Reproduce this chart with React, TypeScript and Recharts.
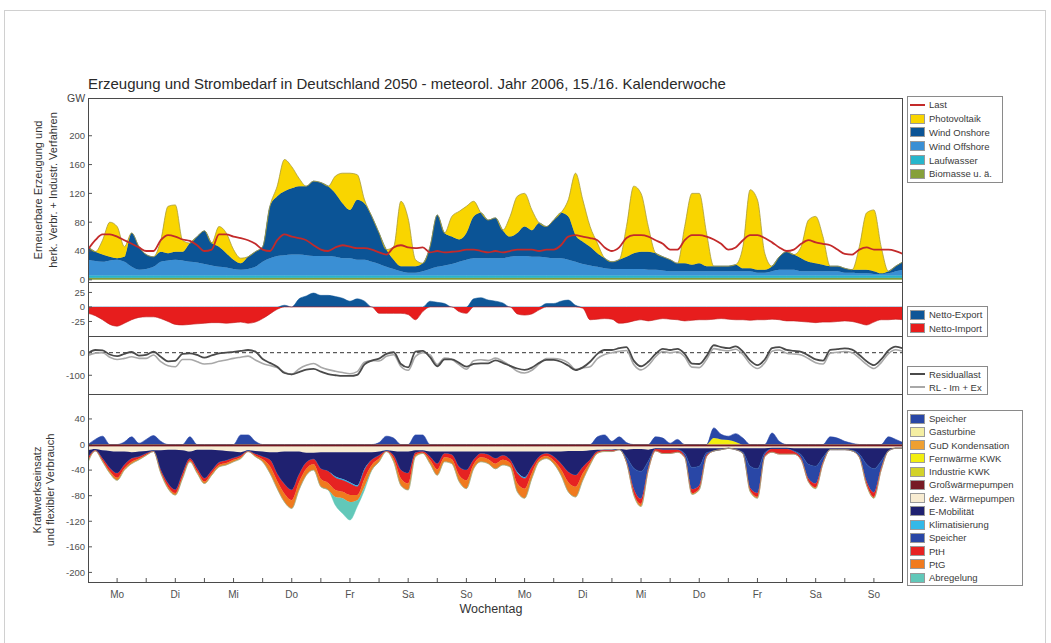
import React from 'react'
import { ComposedChart, Area, Line, XAxis, YAxis, ReferenceLine } from 'recharts'

const FONT = '"Liberation Sans", Arial, Helvetica, sans-serif'

// x axis: 14 days, 3-hour steps (8 per day) + end point = 113 values
const dayLabels = ['Mo', 'Di', 'Mi', 'Do', 'Fr', 'Sa', 'So', 'Mo', 'Di', 'Mi', 'Do', 'Fr', 'Sa', 'So']
const oddDayTicks = [1, 3, 5, 7, 9, 11, 13]
const halfDayTicks = [0.5, 1, 1.5, 2, 2.5, 3, 3.5, 4, 4.5, 5, 5.5, 6, 6.5, 7, 7.5, 8, 8.5, 9, 9.5, 10, 10.5, 11, 11.5, 12, 12.5, 13, 13.5]
const eeTicks = [0, 40, 80, 120, 160, 200]
const netTicks = [-25, 0, 25]
const rlTicks = [-100, 0]
const kwTicks = [-200, -160, -120, -80, -40, 0, 40]

// ---- Erneuerbare Erzeugung (GW) ----
const biomasse = [
  3, 3, 3, 3, 3, 3, 3, 3, 3, 3, 3, 3, 3, 3, 3, 3, 3, 3, 3, 3, 3, 3, 3, 3, 3, 3, 3, 3, 3, 3, 3, 3,
  3, 3, 3, 3, 3, 3, 3, 3, 3, 3, 3, 3, 3, 3, 3, 3, 3, 3, 3, 3, 3, 3, 3, 3, 3, 3, 3, 3, 3, 3, 3, 3,
  3, 3, 3, 3, 3, 3, 3, 3, 3, 3, 3, 3, 3, 3, 3, 3, 3, 3, 3, 3, 3, 3, 3, 3, 3, 3, 3, 3, 3, 3, 3, 3,
  3, 3, 3, 3, 3, 3, 3, 3, 3, 3, 3, 3, 3, 3, 3, 3, 3,
]
const laufwasser = [
  3, 3, 3, 3, 3, 3, 3, 3, 3, 3, 3, 3, 3, 3, 3, 3, 3, 3, 3, 3, 3, 3, 3, 3, 3, 3, 3, 3, 3, 3, 3, 3,
  3, 3, 3, 3, 3, 3, 3, 3, 3, 3, 3, 3, 3, 3, 3, 3, 3, 3, 3, 3, 3, 3, 3, 3, 3, 3, 3, 3, 3, 3, 3, 3,
  3, 3, 3, 3, 3, 3, 3, 3, 3, 3, 3, 3, 3, 3, 3, 3, 3, 3, 3, 3, 3, 3, 3, 3, 3, 3, 3, 3, 3, 3, 3, 3,
  3, 3, 3, 3, 3, 3, 3, 3, 3, 3, 3, 3, 3, 3, 3, 3, 3,
]
const windOffshore = [
  22, 20, 19, 21, 22, 19, 12, 8,
  9, 12, 19, 21, 22, 21, 19, 18,
  16, 14, 12, 11, 9, 8, 9, 12,
  19, 24, 27, 28, 29, 29, 28, 27,
  27, 27, 26, 24, 24, 22, 22, 19,
  16, 12, 9, 6, 4, 4, 6, 9,
  12, 14, 16, 19, 22, 24, 24, 24,
  24, 24, 26, 27, 27, 26, 26, 25,
  24, 24, 22, 19, 16, 14, 12, 10,
  9, 9, 9, 9, 9, 8, 8, 7,
  6, 6, 6, 6, 6, 6, 6, 6,
  6, 6, 6, 6, 4, 4, 6, 8,
  8, 8, 6, 6, 6, 6, 6, 6,
  4, 4, 3, 3, 2, 2, 3, 6, 8,
]
const windOnshore = [
  18, 13, 10, 5, 2, 7, 47, 32,
  20, 14, 14, 10, 11, 12, 26, 36,
  46, 31, 28, 20, 13, 9, 17, 21,
  21, 72, 83, 89, 92, 95, 96, 104,
  102, 97, 88, 76, 67, 83, 78, 63,
  43, 24, 13, 7, 9, 9, 11, 31,
  72, 45, 38, 31, 37, 58, 63, 53,
  56, 39, 28, 32, 41, 37, 47, 43,
  53, 63, 60, 37, 31, 26, 19, 14,
  10, 13, 17, 22, 24, 25, 23, 19,
  16, 11, 11, 9, 11, 7, 7, 7,
  7, 9, 4, 4, 4, 4, 7, 18,
  25, 21, 18, 13, 11, 9, 7, 7,
  6, 4, 5, 5, 4, 1, 3, 7, 11,
]
const photovoltaik = [
  0, 0, 20, 48, 44, 14, 0, 0,
  0, 0, 16, 65, 65, 16, 0, 0,
  0, 0, 28, 28, 14, 7, 0, 0,
  0, 0, 14, 44, 30, 11, 0, 0,
  0, 0, 24, 42, 51, 35, 5, 0,
  0, 0, 18, 90, 66, 9, 0, 0,
  0, 0, 28, 39, 37, 21, 0, 0,
  0, 0, 28, 51, 46, 28, 0, 0,
  0, 0, 23, 86, 58, 28, 14, 0,
  0, 0, 42, 93, 81, 35, 0, 0,
  0, 0, 51, 99, 97, 46, 0, 0,
  0, 0, 30, 109, 97, 23, 0, 0,
  0, 0, 16, 58, 65, 39, 0, 0,
  0, 0, 32, 79, 85, 37, 0, 0, 0,
]
const last = [
  42, 55, 63, 63, 60, 55, 50, 45,
  40, 40, 55, 62, 60, 56, 54, 48,
  40, 42, 63, 63, 60, 58, 55, 50,
  42, 40, 55, 63, 60, 58, 55, 48,
  42, 40, 45, 48, 46, 44, 44, 42,
  38, 35, 45, 48, 45, 44, 45, 38,
  40, 38, 39, 40, 42, 42, 40, 38,
  40, 38, 40, 42, 42, 42, 40, 42,
  42, 48, 60, 62, 60, 58, 55, 45,
  40, 45, 58, 62, 62, 60, 55, 50,
  42, 42, 55, 62, 62, 60, 56, 50,
  42, 45, 55, 62, 62, 58, 52, 45,
  40, 42, 50, 55, 52, 50, 48, 42,
  36, 35, 42, 45, 42, 42, 42, 40, 36,
]

// ---- Netto-Export (+) / Netto-Import (-) ----
const netto = [
  -11, -15, -22, -30, -33, -28, -22, -18,
  -17, -17, -20, -25, -30, -31, -30, -29,
  -28, -27, -27, -28, -27, -26, -28, -26,
  -20, -12, -4, 3, 0, 14, 19, 24,
  20, 20, 18, 15, 10, 14, 10, 0,
  -11, -11, -11, -11, -13, -22, -8, 10,
  8, 6, 0, -8, -11, 14, 16, 12,
  10, 7, 0, -12, -14, -12, -5, 6,
  6, 10, 12, 3, -2, -22, -21, -20,
  -21, -28, -27, -24, -22, -24, -22, -20,
  -21, -22, -24, -23, -22, -22, -21, -20,
  -21, -22, -22, -23, -22, -22, -21, -22,
  -24, -24, -25, -26, -27, -26, -26, -25,
  -24, -25, -28, -31, -26, -22, -22, -21, -22,
]

// ---- Residuallast ----
const residuallast = [
  -3, 12, 10, -8, -15, -5, 3, -13,
  -10, 5, -18, -38, -36, -5, -3, -10,
  -22, -12, -3, 0, 4, 8, 12, 5,
  -28, -45, -62, -90, -96, -86, -75, -72,
  -84, -95, -100, -103, -103, -98, -52, -35,
  -26, -5, 2, -50, -65, 5, 8, -20,
  -60, -30, -30, -45, -62, -50, -47, -47,
  -34, -45, -58, -70, -76, -66, -45, -32,
  -32, -40, -57, -77, -65, -40, -5, 12,
  12, 20, 25, -35, -60, -40, -5, 17,
  12, 17, -5, -48, -50, -15, 33, 25,
  20, 28, 5, -35, -55, -30, 20, 25,
  12, 8, 4, -12, -30, -35, 12, 16,
  19, 14, -10, -38, -55, -30, 10, 27, 19,
]
const rlImEx = [
  -12, -2, 0, -20, -30, -25, -18, -25,
  -25, -10, -40, -58, -62, -30, -30, -40,
  -50, -48, -38, -32, -25, -20, -15, -32,
  -48, -57, -66, -87, -96, -72, -56, -48,
  -64, -75, -82, -88, -93, -84, -42, -35,
  -37, -16, -9, -61, -78, -17, 0, -10,
  -52, -24, -30, -53, -73, -36, -31, -35,
  -24, -38, -58, -82, -90, -78, -50, -26,
  -26, -30, -45, -74, -67, -62, -26, -8,
  0, 6, 10, -52, -76, -56, -18, 5,
  0, 4, -18, -64, -66, -30, 18, 12,
  8, 15, -8, -50, -70, -45, 6, 12,
  -2, -6, -10, -26, -44, -50, -2, 2,
  5, 0, -24, -52, -70, -44, -4, 13, 6,
]

// ---- Kraftwerkseinsatz und flexibler Verbrauch ----
const speicherPos = [
  0, 8, 13, 0, 0, 4, 12, 2,
  8, 14, 5, 0, 0, 0, 12, 0,
  0, 0, 0, 0, 0, 15, 15, 5,
  0, 0, 0, 0, 0, 0, 0, 0,
  0, 0, 0, 0, 0, 0, 0, 0,
  3, 13, 10, 0, 0, 15, 15, 0,
  0, 0, 0, 0, 0, 0, 0, 0,
  0, 0, 0, 0, 0, 0, 0, 0,
  0, 0, 0, 0, 0, 0, 12, 15,
  5, 12, 3, 0, 0, 0, 12, 10,
  2, 8, 0, 0, 0, 0, 16, 8,
  6, 13, 10, 0, 0, 0, 18, 5,
  0, 0, 0, 0, 0, 0, 12, 10,
  5, 2, 0, 0, 0, 0, 12, 8, 3,
]
const fernwaermeKWK = [
  0, 0, 0, 0, 0, 0, 0, 0, 0, 0, 0, 0, 0, 0, 0, 0, 0, 0, 0, 0, 0, 0, 0, 0, 0, 0, 0, 0, 0, 0, 0, 0,
  0, 0, 0, 0, 0, 0, 0, 0, 0, 0, 0, 0, 0, 0, 0, 0, 0, 0, 0, 0, 0, 0, 0, 0, 0, 0, 0, 0, 0, 0, 0, 0,
  0, 0, 0, 0, 0, 0, 0, 0, 0, 0, 0, 0, 0, 0, 0, 0, 0, 0, 0, 0, 0, 0, 10, 8,
  7, 4, 0, 0, 0, 0, 0, 0,
  0, 0, 0, 0, 0, 0, 0, 0,
  0, 0, 0, 0, 0, 0, 0, 0, 0,
]
const grossWP = [
  -3, -3, -3, -3, -3, -3, -3, -3, -3, -3, -3, -3, -3, -3, -3, -3, -3, -3, -3, -3, -3, -3, -3, -3,
  -3, -3, -3, -3, -3, -3, -3, -3, -3, -3, -3, -3, -3, -3, -3, -3, -3, -3, -3, -3, -3, -3, -3, -3,
  -3, -3, -3, -3, -3, -3, -3, -3, -3, -3, -3, -3, -3, -3, -3, -3, -3, -3, -3, -3, -3, -3, -3, -3,
  -3, -3, -3, -3, -3, -3, -3, -3, -3, -3, -3, -3, -3, -3, -3, -3, -3, -3, -3, -3, -3, -3, -3, -3,
  -3, -3, -3, -3, -3, -3, -3, -3, -3, -3, -3, -3, -3, -3, -3, -3, -3,
]
const dezWP = [
  -6, -4, -6, -7, -8, -8, -9, -8,
  -7, -6, -6, -5, -5, -6, -8, -5,
  -5, -5, -6, -7, -8, -9, -6, -7,
  -8, -9, -9, -8, -8, -8, -10, -10,
  -9, -9, -9, -9, -9, -9, -9, -9,
  -8, -6, -7, -8, -8, -6, -6, -8,
  -8, -8, -8, -8, -8, -8, -8, -8,
  -8, -8, -8, -8, -8, -8, -8, -8,
  -8, -8, -7, -7, -7, -6, -5, -5,
  -5, -4, -5, -4, -4, -5, -3, -3,
  -3, -3, -3, -3, -3, -3, -3, -3,
  -2, -3, -3, -3, -3, -3, -2, -2,
  -2, -3, -3, -3, -3, -3, -3, -3,
  -3, -3, -3, -3, -3, -3, -3, -2, -2,
]
const eMobilitaet = [
  -12, -2, -13, -27, -34, -21, -10, -8,
  -4, -1, -31, -53, -63, -36, -11, -30,
  -45, -33, -19, -15, -10, -5, -1, -5,
  -8, -12, -34, -51, -60, -36, -15, -10,
  -26, -30, -38, -42, -47, -52, -26, -12,
  -6, -1, -7, -29, -34, -4, -2, -8,
  -19, -3, -5, -24, -29, -13, -3, -5,
  -11, -6, -13, -32, -40, -24, -8, -3,
  -8, -19, -33, -38, -25, -15, -3, -1,
  -1, -1, -12, -30, -35, -18, -1, -2,
  -2, -2, -8, -30, -28, -7, -4, -2,
  -1, -2, -6, -28, -32, -7, -2, -2,
  -2, -4, -10, -25, -28, -14, -2, -2,
  -2, -3, -9, -25, -32, -20, -4, -1, -1,
]
const klimatisierung = [
  0, 0, 0, 0, 0, 0, 0, 0, 0, 0, 0, 0, 0, 0, 0, 0, 0, 0, 0, 0, 0, 0, 0, 0, 0, 0, 0, 0, 0, 0, 0, 0,
  0, 0, -2, -2, -2, -2, -2, 0,
  0, 0, 0, 0, 0, 0, 0, 0, 0, 0, 0, 0, 0, 0, 0, 0,
  0, 0, 0, -2, -2, 0, 0, 0,
  0, 0, 0, 0, 0, 0, 0, 0, 0, 0, 0, 0, 0, 0, 0, 0, 0, 0, 0, 0, 0, 0, 0, 0,
  0, 0, 0, 0, 0, 0, 0, 0, 0, 0, 0, 0, 0, 0, 0, 0, 0, 0, 0, 0, 0, 0, 0, 0, 0,
]
const speicherNeg = [
  0, 0, 0, 0, 0, 0, 0, 0, 0, 0, 0, 0, 0, 0, 0, 0, 0, 0, 0, 0, 0, 0, 0, 0,
  0, 0, 0, 0, 0, 0, 0, 0, 0, 0, 0, 0, 0, 0, 0, 0, 0, 0, 0, 0, 0, 0, 0, 0,
  0, 0, 0, 0, 0, 0, 0, 0, 0, 0, 0, 0, 0, 0, 0, 0, 0, 0, 0, 0, 0, 0, 0, 0,
  0, 0, -6, -32, -43, -10, 0, 0,
  0, 0, -4, -34, -30, -3, 0, 0,
  0, 0, -2, -34, -38, -3, 0, 0,
  0, -1, -5, -22, -27, -7, 0, 0,
  0, -1, -4, -27, -37, -10, 0, 0, 0,
]
const pth = [
  -4, -1, -3, -5, -7, -5, -5, -3,
  -2, -1, -3, -5, -5, -5, -3, -4,
  -5, -4, -4, -4, -3, -3, -1, -2,
  -4, -10, -11, -15, -16, -12, -10, -8,
  -16, -18, -19, -18, -18, -13, -13, -8,
  -5, -1, -5, -13, -16, -3, -2, -5,
  -9, -6, -7, -13, -16, -7, -6, -7,
  -8, -7, -5, -16, -16, -9, -4, -4,
  -6, -9, -16, -18, -10, -4, -2, -1,
  -2, 0, -2, -8, -8, -4, -3, -6,
  -6, -4, -2, -6, -5, -3, 0, 0,
  0, 0, 0, -4, -6, -3, -5, -8,
  -8, -4, -3, -5, -6, -3, 0, 0,
  0, 0, -1, -5, -7, -4, 0, 0, 0,
]
const ptg = [
  -3, 0, -2, -3, -4, -3, -3, -2,
  -1, 0, -2, -3, -3, -3, -2, -3,
  -3, -3, -3, -3, -3, -2, 0, -2,
  -4, -11, -12, -13, -13, -12, -10, -9,
  -12, -11, -11, -10, -11, -8, -13, -8,
  -5, 0, -5, -11, -10, -3, -1, -6,
  -9, -7, -7, -10, -13, -7, -7, -7,
  -8, -8, -6, -13, -15, -9, -4, -4,
  -5, -9, -15, -16, -11, -4, -1, -1,
  0, 0, 0, -2, -4, 0, 0, 0,
  0, 0, 0, -2, -2, 0, 0, 0,
  0, 0, 0, -2, -2, 0, 0, 0,
  0, 0, 0, 0, -2, 0, 0, 0,
  0, 0, 0, -1, -2, 0, 0, 0, 0,
]
const abregelung = [
  0, 0, 0, 0, 0, 0, 0, 0, 0, 0, 0, 0, 0, 0, 0, 0, 0, 0, 0, 0, 0, 0, 0, 0, 0, 0, 0, 0, 0, 0, 0, 0,
  0, 0, -13, -24, -28, -10, -5, 0,
  0, 0, 0, 0, 0, 0, 0, 0, 0, 0, 0, 0, 0, 0, 0, 0, 0, 0, 0, 0, 0, 0, 0, 0, 0, 0, 0, 0, 0, 0, 0, 0,
  0, 0, 0, 0, 0, 0, 0, 0, 0, 0, 0, 0, 0, 0, 0, 0, 0, 0, 0, 0, 0, 0, 0, 0, 0, 0, 0, 0, 0, 0, 0, 0,
  0, 0, 0, 0, 0, 0, 0, 0, 0,
]

const rows = photovoltaik.map((_, i) => ({
  t: i / 8,
  biomasse: biomasse[i],
  laufwasser: laufwasser[i],
  offshore: windOffshore[i],
  onshore: windOnshore[i],
  pv: photovoltaik[i],
  last: last[i],
  exp: Math.max(netto[i], 0),
  imp: Math.min(netto[i], 0),
  rl: residuallast[i],
  rlImEx: rlImEx[i],
  spPos: speicherPos[i],
  fw: fernwaermeKWK[i],
  gwp: grossWP[i],
  dez: dezWP[i],
  emob: eMobilitaet[i],
  klima: klimatisierung[i],
  spNeg: speicherNeg[i],
  pth: pth[i],
  ptg: ptg[i],
  abr: abregelung[i],
}))

const C = {
  last: '#c32a2a',
  pv: '#f9d500',
  onshore: '#0b5496',
  offshore: '#3a8fd4',
  laufwasser: '#27b6cc',
  biomasse: '#86a03a',
  exp: '#0f5697',
  imp: '#e71d1d',
  rl: '#4a4a4a',
  rlImEx: '#a8a8a8',
  speicher: '#2947a6',
  gasturbine: '#f4eea2',
  gud: '#efa032',
  fw: '#f2ee10',
  ind: '#d3d22a',
  gwp: '#761a24',
  dez: '#f8ecd2',
  emob: '#1f2170',
  klima: '#33b9e8',
  pth: '#e62222',
  ptg: '#f07a1e',
  abr: '#62c8b9',
}

const eeLegend = [
  { name: 'Last', color: C.last, line: true },
  { name: 'Photovoltaik', color: C.pv },
  { name: 'Wind Onshore', color: C.onshore },
  { name: 'Wind Offshore', color: C.offshore },
  { name: 'Laufwasser', color: C.laufwasser },
  { name: 'Biomasse u. ä.', color: C.biomasse },
]
const netLegend = [
  { name: 'Netto-Export', color: C.exp },
  { name: 'Netto-Import', color: C.imp },
]
const rlLegend = [
  { name: 'Residuallast', color: C.rl, line: true },
  { name: 'RL - Im + Ex', color: C.rlImEx, line: true },
]
const kwLegend = [
  { name: 'Speicher', color: C.speicher },
  { name: 'Gasturbine', color: C.gasturbine },
  { name: 'GuD Kondensation', color: C.gud },
  { name: 'Fernwärme KWK', color: C.fw },
  { name: 'Industrie KWK', color: C.ind },
  { name: 'Großwärmepumpen', color: C.gwp },
  { name: 'dez. Wärmepumpen', color: C.dez },
  { name: 'E-Mobilität', color: C.emob },
  { name: 'Klimatisierung', color: C.klima },
  { name: 'Speicher', color: C.speicher },
  { name: 'PtH', color: C.pth },
  { name: 'PtG', color: C.ptg },
  { name: 'Abregelung', color: C.abr },
]

const PLOT_LEFT = 88
const PLOT_W = 815
const AXIS_W = 40
const PAD = 8 // extra svg room above/below each plot so edge labels are not clipped
const tickStyle = { fontSize: 9.5, fill: '#505050', fontFamily: FONT }
const tickLine = { stroke: '#555' }

type LegendItem = { name: string; color: string; line?: boolean }

function LegendBox({ left, top, width, rowH, items }: { left: number; top: number; width: number; rowH: number; items: LegendItem[] }) {
  return (
    <div
      style={{
        position: 'absolute', left, top, width, border: '1px solid #8a8a8a', background: '#fff',
        padding: '1px 0 1px 2px', fontSize: 9.5, fontFamily: FONT, color: '#3a3a3a', boxSizing: 'border-box',
      }}
    >
      {items.map((it, i) => (
        <div key={i} style={{ display: 'flex', alignItems: 'center', height: rowH, whiteSpace: 'nowrap' }}>
          {it.line ? (
            <span style={{ display: 'inline-block', width: 15, height: 0, borderTop: `2px solid ${it.color}`, marginRight: 4 }} />
          ) : (
            <span style={{ display: 'inline-block', width: 15, height: 10, background: it.color, marginRight: 4, border: '1px solid #9a9a9a', boxSizing: 'border-box' }} />
          )}
          <span>{it.name}</span>
        </div>
      ))}
    </div>
  )
}

function Frame({ top, height }: { top: number; height: number }) {
  return (
    <div
      style={{
        position: 'absolute', left: PLOT_LEFT, top, width: PLOT_W, height,
        border: '1.5px solid #4a4a4a', boxSizing: 'border-box', pointerEvents: 'none',
      }}
    />
  )
}

function YLabel({ cx, cy, lines, gap }: { cx: number; cy: number; lines: string[]; gap: number }) {
  return (
    <div
      style={{
        position: 'absolute', left: cx, top: cy, transform: 'translate(-50%, -50%) rotate(-90deg)',
        fontFamily: FONT, fontSize: 11, color: '#333', textAlign: 'center', lineHeight: `${gap}px`, whiteSpace: 'nowrap',
      }}
    >
      {lines.map((l) => (
        <div key={l}>{l}</div>
      ))}
    </div>
  )
}

export default function App() {
  const xAxisPlain = (xTicks: number[]) => (
    <XAxis
      dataKey="t" type="number" domain={[0, 14]} ticks={xTicks} interval={0} allowDataOverflow
      tick={false} tickSize={-4} height={0} axisLine={false} tickLine={tickLine}
    />
  )
  const yAxes = (domain: [number, number], ticks: number[]) => [
    <YAxis
      key="l" type="number" domain={domain} ticks={ticks} interval={0} allowDataOverflow width={AXIS_W}
      tick={tickStyle} tickSize={-4} tickMargin={7} axisLine={false} tickLine={tickLine}
    />,
    <YAxis
      key="r" yAxisId="r" orientation="right" type="number" domain={domain} ticks={ticks} interval={0} allowDataOverflow
      width={0} tick={false} tickSize={-4} axisLine={false} tickLine={tickLine}
    />,
  ]
  const m = { top: PAD, right: 0, bottom: PAD, left: 0 }

  return (
    <div style={{ position: 'absolute', left: 0, top: 0, width: 1051, height: 643, background: '#fff', fontFamily: FONT }}>
      <div style={{ position: 'absolute', left: 4, top: 10, width: 1042, height: 640, border: '1px solid #d0d0d0', boxSizing: 'border-box' }} />

      <div style={{ position: 'absolute', left: 88, top: 75, fontSize: 15, color: '#2a2a2a', whiteSpace: 'nowrap' }}>
        Erzeugung und Strombedarf in Deutschland 2050 - meteorol. Jahr 2006, 15./16. Kalenderwoche
      </div>
      <div style={{ position: 'absolute', left: 67, top: 92, fontSize: 10.5, color: '#444' }}>GW</div>

      <YLabel cx={46} cy={190} lines={['Erneuerbare Erzeugung und', 'herk. Verbr. + Industr. Verfahren']} gap={15} />
      <YLabel cx={44} cy={490} lines={['Kraftwerkseinsatz', 'und flexibler Verbrauch']} gap={13} />

      {/* Panel 1: renewable generation */}
      <div style={{ position: 'absolute', left: PLOT_LEFT - AXIS_W, top: 99 - PAD }}>
        <ComposedChart width={AXIS_W + PLOT_W} height={183 + 2 * PAD} data={rows} margin={m}>
          {xAxisPlain(oddDayTicks)}
          {yAxes([-3, 251], eeTicks)}
          <Area type="monotone" dataKey="biomasse" stackId="ee" fill={C.biomasse} stroke="#4f7a5a" strokeWidth={0.6} fillOpacity={1} isAnimationActive={false} />
          <Area type="monotone" dataKey="laufwasser" stackId="ee" fill={C.laufwasser} stroke={C.laufwasser} strokeWidth={0.5} fillOpacity={1} isAnimationActive={false} />
          <Area type="monotone" dataKey="offshore" stackId="ee" fill={C.offshore} stroke={C.offshore} strokeWidth={0.5} fillOpacity={1} isAnimationActive={false} />
          <Area type="monotone" dataKey="onshore" stackId="ee" fill={C.onshore} stroke="#0a4a86" strokeWidth={0.6} fillOpacity={1} isAnimationActive={false} />
          <Area type="monotone" dataKey="pv" stackId="ee" fill={C.pv} stroke="#a99c3a" strokeWidth={0.8} fillOpacity={1} isAnimationActive={false} />
          <Line type="monotone" dataKey="last" stroke={C.last} strokeWidth={1.8} dot={false} isAnimationActive={false} />
        </ComposedChart>
      </div>
      <Frame top={98} height={185} />

      {/* Panel 2: net export / import */}
      <div style={{ position: 'absolute', left: PLOT_LEFT - AXIS_W, top: 282 - PAD }}>
        <ComposedChart width={AXIS_W + PLOT_W} height={54 + 2 * PAD} data={rows} margin={m}>
          {xAxisPlain(oddDayTicks)}
          {yAxes([-50, 43], netTicks)}
          <Area type="monotone" dataKey="exp" baseValue={0} fill={C.exp} stroke={C.exp} strokeWidth={0.5} fillOpacity={1} isAnimationActive={false} />
          <Area type="monotone" dataKey="imp" baseValue={0} fill={C.imp} stroke="#c01818" strokeWidth={0.6} fillOpacity={1} isAnimationActive={false} />
        </ComposedChart>
      </div>
      <Frame top={282} height={55} />

      {/* Panel 3: residual load */}
      <div style={{ position: 'absolute', left: PLOT_LEFT - AXIS_W, top: 336 - PAD }}>
        <ComposedChart width={AXIS_W + PLOT_W} height={58 + 2 * PAD} data={rows} margin={m}>
          {xAxisPlain(halfDayTicks)}
          {yAxes([-183, 74], rlTicks)}
          <ReferenceLine y={0} stroke="#333" strokeDasharray="4 3" strokeWidth={1} />
          <Line type="monotone" dataKey="rlImEx" stroke={C.rlImEx} strokeWidth={1.6} dot={false} isAnimationActive={false} />
          <Line type="monotone" dataKey="rl" stroke={C.rl} strokeWidth={1.8} dot={false} isAnimationActive={false} />
        </ComposedChart>
      </div>
      <Frame top={336} height={59} />

      {/* Panel 4: power plants and flexible demand */}
      <div style={{ position: 'absolute', left: PLOT_LEFT - AXIS_W, top: 394 - PAD }}>
        <ComposedChart width={AXIS_W + PLOT_W} height={188 + PAD + 30} data={rows} margin={{ top: PAD, right: 0, bottom: 0, left: 0 }}>
          <XAxis
            dataKey="t" type="number" domain={[0, 14]} ticks={halfDayTicks} interval={0} allowDataOverflow
            height={30} tickSize={-4} tickMargin={13} axisLine={false} tickLine={tickLine}
            tick={{ ...tickStyle, fontSize: 10 }}
            tickFormatter={(v: number) => (Number.isInteger(v) ? '' : dayLabels[Math.floor(v)])}
          />
          {yAxes([-215, 79], kwTicks)}
          <Area type="monotone" dataKey="fw" stackId="pos" fill={C.fw} stroke={C.fw} strokeWidth={0.5} fillOpacity={1} isAnimationActive={false} />
          <Area type="monotone" dataKey="spPos" stackId="pos" fill={C.speicher} stroke={C.speicher} strokeWidth={0.6} fillOpacity={1} isAnimationActive={false} />
          <Area type="monotone" dataKey="gwp" stackId="neg" fill={C.gwp} stroke={C.gwp} strokeWidth={0.6} fillOpacity={1} isAnimationActive={false} />
          <Area type="monotone" dataKey="dez" stackId="neg" fill={C.dez} stroke={C.dez} strokeWidth={0.5} fillOpacity={1} isAnimationActive={false} />
          <Area type="monotone" dataKey="emob" stackId="neg" fill={C.emob} stroke={C.emob} strokeWidth={0.5} fillOpacity={1} isAnimationActive={false} />
          <Area type="monotone" dataKey="klima" stackId="neg" fill={C.klima} stroke={C.klima} strokeWidth={0.3} fillOpacity={1} isAnimationActive={false} />
          <Area type="monotone" dataKey="spNeg" stackId="neg" fill={C.speicher} stroke={C.speicher} strokeWidth={0.5} fillOpacity={1} isAnimationActive={false} />
          <Area type="monotone" dataKey="pth" stackId="neg" fill={C.pth} stroke={C.pth} strokeWidth={0.5} fillOpacity={1} isAnimationActive={false} />
          <Area type="monotone" dataKey="ptg" stackId="neg" fill={C.ptg} stroke={C.ptg} strokeWidth={0.5} fillOpacity={1} isAnimationActive={false} />
          <Area type="monotone" dataKey="abr" stackId="neg" fill={C.abr} stroke={C.abr} strokeWidth={0.5} fillOpacity={1} isAnimationActive={false} />
        </ComposedChart>
      </div>
      <Frame top={394} height={189} />

      <div style={{ position: 'absolute', left: 491, top: 609, transform: 'translate(-50%, -50%)', fontSize: 12.5, color: '#333' }}>
        Wochentag
      </div>

      <LegendBox left={907} top={96} width={96} rowH={13.8} items={eeLegend} />
      <LegendBox left={907} top={306} width={81} rowH={13.5} items={netLegend} />
      <LegendBox left={907} top={366} width={81} rowH={12.7} items={rlLegend} />
      <LegendBox left={907} top={410} width={116} rowH={13.25} items={kwLegend} />
    </div>
  )
}
